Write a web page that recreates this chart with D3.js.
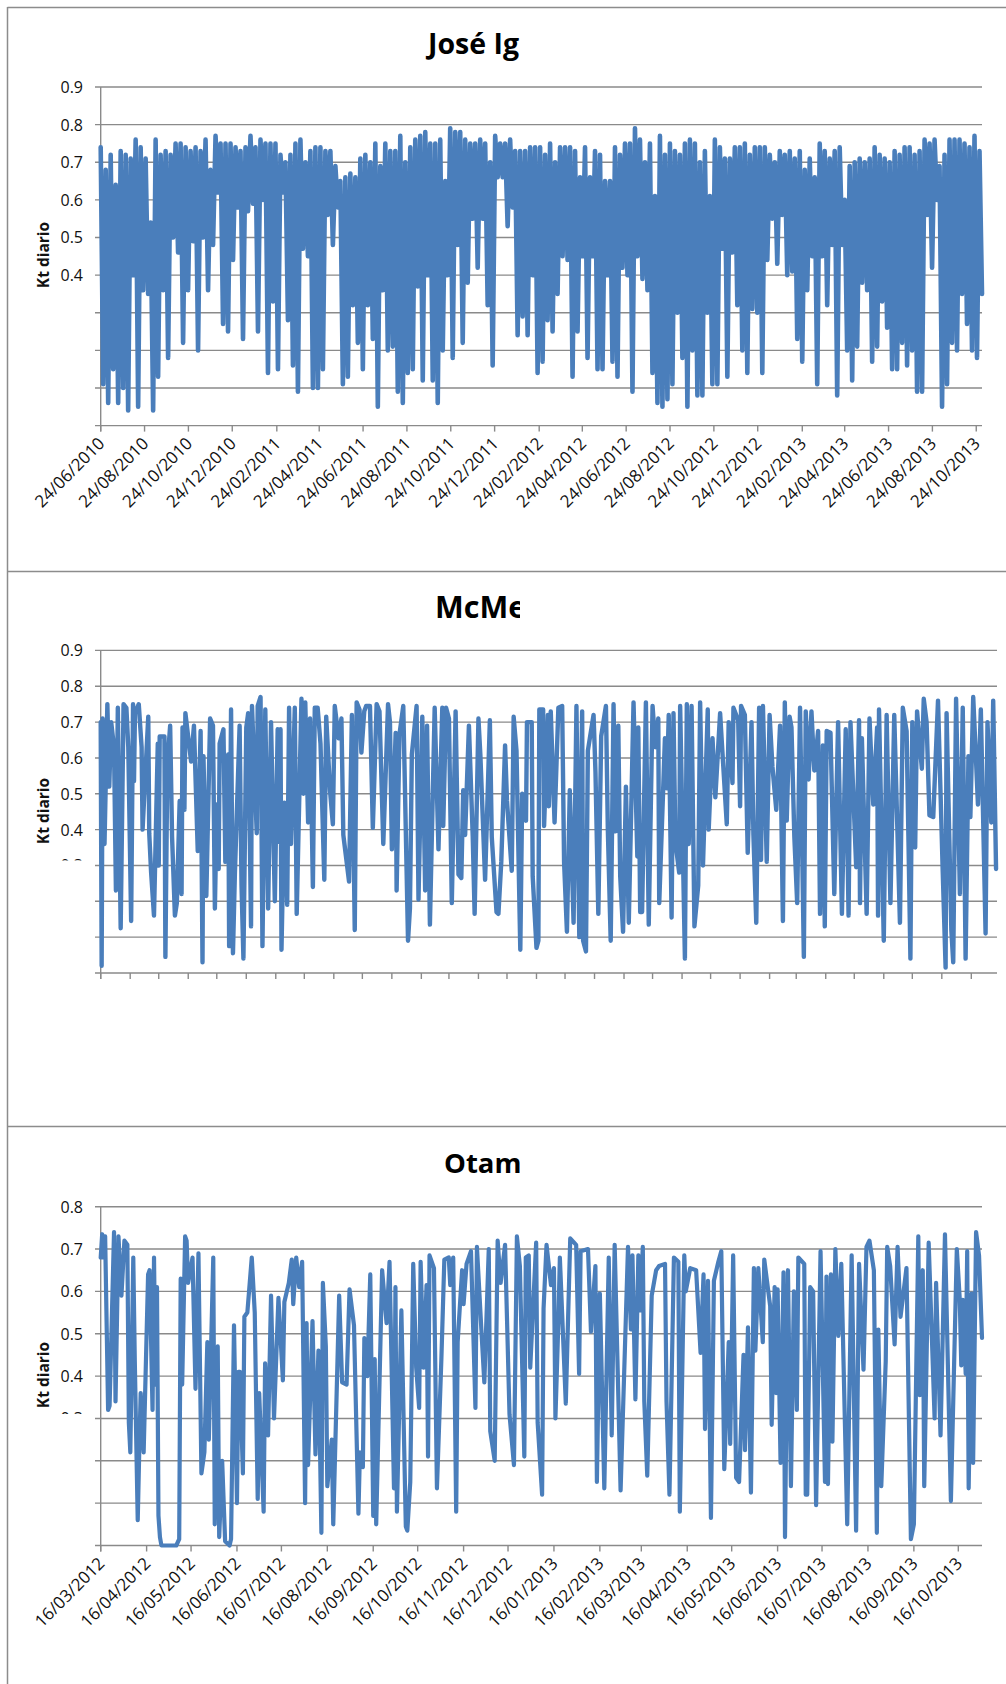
<!DOCTYPE html>
<html><head><meta charset="utf-8">
<script src="https://cdn.jsdelivr.net/npm/d3@7"></script>
<style>html,body{margin:0;padding:0;background:#fff}svg{display:block}text{font-family:"Open Sans",sans-serif;fill:#111}</style>
</head><body><svg id="c" width="1006" height="1684"></svg>
<script>
// Kt diario, in hundredths, alternating upper and lower reach of the band
const joseValues=[74,11,68,6,72,15,64,6,73,10,72,4,71,40,76,5,74,36,71,35,54,4,76,13,72,36,73,18,72,50,75,46,75,22,74,36,73,49,74,20,73,50,76,36,68,48,77,62,75,27,75,25,75,44,74,58,73,23,74,57,77,59,74,25,76,60,75,14,75,33,75,15,72,62,70,28,72,16,75,9,76,47,70,45,73,10,74,10,74,15,73,56,73,48,69,58,65,11,66,13,67,32,66,22,71,15,72,32,70,23,75,5,69,36,75,20,73,21,73,9,77,6,70,14,74,15,76,37,77,12,78,40,75,12,75,6,76,20,65,40,79,18,78,48,78,22,76,38,75,55,75,42,76,55,75,32,70,16,77,66,75,66,75,53,76,58,73,24,
73,29,73,24,74,40,74,14,74,17,72,28,75,25,70,35,74,45,74,44,74,13,73,25,66,45,74,18,66,45,73,15,72,15,65,40,65,17,74,13,72,42,75,40,75,9,79,45,76,39,70,36,75,14,61,6,77,5,72,7,75,11,73,30,72,18,75,5,76,20,75,8,70,8,73,30,61,11,76,11,74,47,71,13,71,46,74,32,74,20,75,14,72,31,74,30,74,14,74,44,72,55,70,43,73,56,72,40,73,41,71,23,73,17,68,36,71,45,66,11,75,45,73,32,71,48,73,8,74,48,60,20,69,12,70,21,71,38,70,36,71,17,74,21,72,33,71,26,70,15,73,15,72,22,74,16,74,20,72,9,73,9,76,56,75,42,76,60,69,5,72,11,76,22,76,20,76,35,75,27,74,20,77,18,73,35];
const joseDates=["24/06/2010","24/08/2010","24/10/2010","24/12/2010","24/02/2011","24/04/2011","24/06/2011","24/08/2011","24/10/2011","24/12/2011","24/02/2012","24/04/2012","24/06/2012","24/08/2012","24/10/2012","24/12/2012","24/02/2013","24/04/2013","24/06/2013","24/08/2013","24/10/2013"];

const mcmeDays=[0,1,2,4,7,9,11,14,16,18,21,24,27,29,32,34,35,36,40,43,44,50,51,53,56,60,61,62,67,68,70,73,75,78,80,83,85,86,88,89,95,98,102,105,107,108,111,115,118,120,122,124,125,129,131,134,135,137,139,141,146,148,150,153,155,158,159,164,165,168,170,173,176,179,183,186,188,189,190,193,196,198,200,204,206,211,213,215,218,220,223,225,228,231,235,237,
241,244,246,250,253,255,261,264,267,269,272,274,277,279,283,286,290,293,297,302,304,306,310,311,314,318,323,325,327,332,334,338,341,343,346,351,355,359,360,363,366,369,373,376,379,381,383,387,391,393,397,399,404,409,411,416,418,421,425,427,432,434,437,441,443,447,448,453,454,458,460,461,465,466,470,471,
473,477,481,485,487,490,493,497,500,503,506,507,510,512,518,520,523,526,531,533,536,539,541,544,546,549,552,555,560,564,565,567,569,573,576,580,583,586,587,593,595,597,600,602,604,608,609,614,616,618,621,624,628,630,633,638,639,643,646,651,653,658,660,664,665,670,672,673,677,680,684,686,689,692,694,696,700,703,706,710,
714,717,719,721,724,726,729,732,735,739,741,744,747,750,754,756,759,761,763,767,771,775,779,783,786,788,794,797,798,800,805,808,812,816,817,818,823,826,830,834,840,843,847,849,851,853,856,858,863,865,868,871,875,880,882,885,888,889,894,896,899,903,906,909,912,914,917,922,925,930,932,936,938,941];
const mcmeValues=[.7,.02,.71,.36,.75,.52,.7,.63,.23,.74,.125,.75,.74,.63,.145,.75,.535,.725,.75,.63,.4,.715,.39,.28,.16,.64,.3,.66,.66,.045,.58,.69,.38,.16,.195,.48,.22,.685,.455,.725,.59,.69,.34,.675,.03,.605,.215,.71,.69,.18,.47,.29,.64,.68,.31,.61,.075,.735,.055,.275,.69,.245,.04,.685,.725,.13,.745,.39,.745,.77,.075,.735,.18,.7,.2,.68,.365,.68,.065,.475,.19,.74,.36,.74,.165,.765,.5,.755,.42,.71,.24,.74,.74,.64,.26,.715,
.51,.415,.745,.655,.71,.385,.255,.72,.12,.755,.735,.615,.73,.745,.745,.405,.75,.73,.36,.75,.7,.345,.67,.23,.665,.745,.09,.18,.61,.745,.205,.715,.23,.69,.135,.74,.345,.74,.41,.74,.71,.195,.73,.275,.265,.51,.385,.69,.38,.165,.71,.61,.26,.705,.38,.17,.165,.31,.635,.48,.285,.715,.62,.065,.5,.425,.7,.7,.27,.07,.09,.735,.735,.41,.72,.465,
.73,.42,.74,.745,.31,.115,.51,.14,.745,.1,.73,.09,.06,.62,.72,.56,.165,.66,.745,.4,.09,.75,.395,.69,.27,.115,.52,.14,.755,.325,.685,.17,.17,.755,.135,.745,.63,.71,.195,.655,.515,.72,.155,.725,.365,.28,.745,.04,.75,.36,.745,.13,.245,.755,.3,.735,.4,.655,.49,.725,.635,.415,.7,.53,.74,.705,.465,.745,.72,.335,.7,.385,.14,.74,.315,.745,.31,.72,.575,.455,
.69,.145,.755,.425,.715,.685,.38,.195,.74,.045,.73,.54,.73,.565,.675,.165,.635,.13,.675,.67,.22,.7,.165,.68,.16,.7,.295,.705,.195,.655,.165,.71,.47,.685,.16,.735,.09,.72,.195,.72,.14,.74,.675,.365,.04,.7,.35,.73,.57,.765,.7,.44,.435,.76,.565,.28,.015,.725,.12,.03,.765,.22,.74,.04,.605,.435,.77,.47,.735,.11,.7,.42,.76,.29];

const otamDays=[0,1,2,3,5,6,9,10,12,14,16,18,19,20,22,23,25,26,27,29,32,33,35,36,37,38,39,40,41,45,51,53,54,55,57,58,59,62,64,66,68,70,72,73,76,77,79,80,82,84,87,88,90,92,93,94,96,97,99,102,104,106,107,110,111,113,115,117,120,123,124,127,129,130,132,134,136,138,139,140,143,145,147,149,150,152,153,156,157,161,163,166,168,171,174,175,177,178,180,182,184,185,186,190,193,195,198,199,200,203,206,207,209,211,213,215,216,218,220,221,222,225,227,230,232,235,236,238,240,241,244,245,247,250,253,254,257,259,262,263,266,268,270,273,276,279,281,283,286,287,289,290,294,295,298,299,301,304,306,307,309,310,314,317,321,323,324,329,331,334,335,337,340,343,345,347,351,356,358,359,361,363,364,366,367,369,372,375,377,381,382,384,387,390,391,394,395,398,402,405,407,408,410,412,414,417,419,421,424,425,427,429,431,434,435,437,439,441,442,444,447,448,452,453,455,456,457,459,461,462,464,466,468,470,471,475,476,477,479,481,483,486,489,490,491,493,494,496,498,500,504,507,510,512,515,517,519,522,524,525,527,530,531,533,536,538,540,544,547,549,552,553,555,556,559,563,564,567,570,574,578,580,581,582,584,585,586,588,589,591,593,595];
const otamValues=[.68,.735,.68,.73,.32,.33,.74,.34,.73,.59,.72,.71,.29,.22,.68,.44,.06,.22,.36,.22,.64,.65,.32,.68,.38,.61,.07,.02,0,0,0,.015,.63,.38,.73,.72,.62,.68,.37,.69,.17,.22,.48,.25,.68,.05,.47,.02,.2,.01,0,.015,.52,.1,.41,.41,.17,.54,.55,.68,.55,.11,.36,.08,.43,.26,.59,.3,.585,.39,.575,.62,.675,.57,.68,.61,.67,.1,.525,.19,.53,.215,.46,.03,.62,.47,.14,.25,.05,.59,.385,.38,.605,.52,.075,.22,.185,.49,.4,.64,.07,.44,.05,.65,.525,.67,.135,.61,.08,.555,.045,.035,.15,.665,.42,.325,.67,.42,.615,.21,.685,.655,.135,.44,.675,.68,.615,.68,.08,.48,.65,.57,.665,.695,.325,.705,.51,.385,.7,.27,.2,.72,.62,.71,.31,.19,.73,.66,.21,.68,.685,.42,.715,.29,.12,.56,.71,.615,.655,.3,.53,.68,.335,.725,.71,.405,.695,.7,.505,.66,.15,.595,.135,.68,.26,.71,.13,.705,.51,.685,.345,.685,.555,.705,.34,.165,.59,.65,.66,.665,.34,.12,.68,.67,.08,.685,.6,.655,.65,.455,.64,.275,.625,.065,.625,.67,.695,.18,.48,.24,.685,.16,.15,.45,.225,.515,.125,.655,.46,.655,.48,.675,.565,.285,.61,.36,.605,.195,.645,.02,.65,.14,.6,.32,.68,.665,.12,.12,.61,.6,.095,.695,.15,.635,.145,.64,.245,.7,.495,.665,.05,.685,.035,.665,.415,.705,.72,.65,.03,.51,.14,.435,.705,.66,.475,.705,.54,.655,.015,.05,.73,.355,.65,.14,.715,.3,.62,.26,.735,.105,.7,.58,.425,.58,.405,.695,.135,.595,.195,.74,.685,.49];
const otamDates=["16/03/2012","16/04/2012","16/05/2012","16/06/2012","16/07/2012","16/08/2012","16/09/2012","16/10/2012","16/11/2012","16/12/2012","16/01/2013","16/02/2013","16/03/2013","16/04/2013","16/05/2013","16/06/2013","16/07/2013","16/08/2013","16/09/2013","16/10/2013"];

const parse=d3.utcParse("%d/%m/%Y"), fmt=d3.utcFormat("%d/%m/%Y");
const DAY=864e5;
const svg=d3.select("#c");
const blue="#4a7ebb", grid="#8a8a8a";
const defs=svg.append("defs");
defs.append("clipPath").attr("id","titleClip").append("rect").attr("x",0).attr("y",0).attr("width",520).attr("height",1684);

const frameYs=[7.5,571.5,1126.5];
frameYs.forEach(y=>svg.append("line").attr("x1",7.5).attr("x2",1006).attr("y1",y).attr("y2",y).attr("stroke","#8c8c8c").attr("stroke-width",1.5));
svg.append("line").attr("x1",7.5).attr("x2",7.5).attr("y1",7).attr("y2",1684).attr("stroke","#8c8c8c").attr("stroke-width",1.5);

const panels=[
 {title:"José Ig",titleX:428,titleFont:28.5,titleY:54,top:87,bot:425.6,right:982,max:.9,start:"24/06/2010",end:"01/11/2013",
  ticks:joseDates.map(parse),labels:true,vals:joseValues.map(v=>v/100),days:null,lw:4.6,shown:[.4,.5,.6,.7,.8,.9],partial:null,ylab:255},
 {title:"McMe",titleX:435,titleFont:30.5,titleY:618,top:650.4,bot:973,right:997,max:.9,start:"16/03/2011",end:"13/10/2013",
  ticks:d3.range(0,32).map(i=>d3.utcMonth.offset(parse("16/03/2011"),i)),labels:false,vals:mcmeValues,days:mcmeDays,lw:4.4,shown:[.4,.5,.6,.7,.8,.9],partial:[.3,860.5],ylab:811},
 {title:"Otam",titleX:444,titleFont:27.5,titleY:1173,top:1206.7,bot:1545.5,right:982,max:.8,start:"16/03/2012",end:"01/11/2013",
  ticks:otamDates.map(parse),labels:true,vals:otamValues,days:otamDays,lw:4.2,shown:[.4,.5,.6,.7,.8],partial:[.3,1414],ylab:1375}
];

panels.forEach((p,idx)=>{
 const t0=parse(p.start),t1=parse(p.end);
 const x=d3.scaleUtc().domain([t0,t1]).range([100.7,p.right]);
 const y=d3.scaleLinear().domain([0,p.max]).range([p.bot,p.top]);
 const g=svg.append("g");
 const gridVals=d3.range(0,Math.round(p.max*10)+1).map(v=>v/10);
 g.selectAll("line.g").data(gridVals).join("line").attr("x1",95).attr("x2",p.right).attr("y1",d=>y(d)).attr("y2",d=>y(d)).attr("stroke",grid).attr("stroke-width",1.4);
 g.append("line").attr("x1",100.7).attr("x2",100.7).attr("y1",p.top).attr("y2",p.bot+6).attr("stroke",grid).attr("stroke-width",1.4);
 const ticks=p.ticks.filter(d=>d<=t1);
 g.selectAll("line.t").data(ticks).join("line").attr("x1",d=>x(d)).attr("x2",d=>x(d)).attr("y1",p.bot).attr("y2",p.bot+6).attr("stroke",grid).attr("stroke-width",1.4);
 g.selectAll("text.y").data(p.shown).join("text").attr("x",83).attr("y",d=>y(d)+6).attr("text-anchor","end").style("font-size","16px").text(d=>d.toFixed(1));
 if(p.partial){
  const id="pc"+idx;
  defs.append("clipPath").attr("id",id).append("rect").attr("x",0).attr("y",0).attr("width",100).attr("height",p.partial[1]);
  g.append("text").attr("x",83).attr("y",y(p.partial[0])+6).attr("text-anchor","end").attr("clip-path",`url(#${id})`).style("font-size","16px").text(p.partial[0].toFixed(1));
 }
 g.append("text").attr("transform",`translate(49,${p.ylab}) rotate(-90)`).attr("text-anchor","middle").style("font-size","15.5px").style("font-weight","700").text("Kt diario");
 svg.append("text").attr("x",p.titleX).attr("y",p.titleY).attr("clip-path","url(#titleClip)").style("font-size",p.titleFont+"px").style("font-weight","700").style("fill","#000").text(p.title);
 if(p.labels){
  g.selectAll("text.x").data(ticks).join("text").attr("text-anchor","end")
   .attr("transform",d=>`translate(${x(d)+5},${p.bot+19}) rotate(-45)`).style("font-size","17px").text(d=>fmt(d));
 }
 const total=(t1-t0)/DAY;
 const pts=p.vals.map((v,i)=>({date:new Date(+t0+(p.days?p.days[i]:i*total/(p.vals.length-1))*DAY),v}));
 const line=d3.line().x(d=>x(d.date)).y(d=>y(d.v));
 svg.append("path").datum(pts).attr("d",line).attr("fill","none").attr("stroke",blue).attr("stroke-width",p.lw).attr("stroke-linejoin","round").attr("stroke-linecap","round");
});
</script></body></html>
